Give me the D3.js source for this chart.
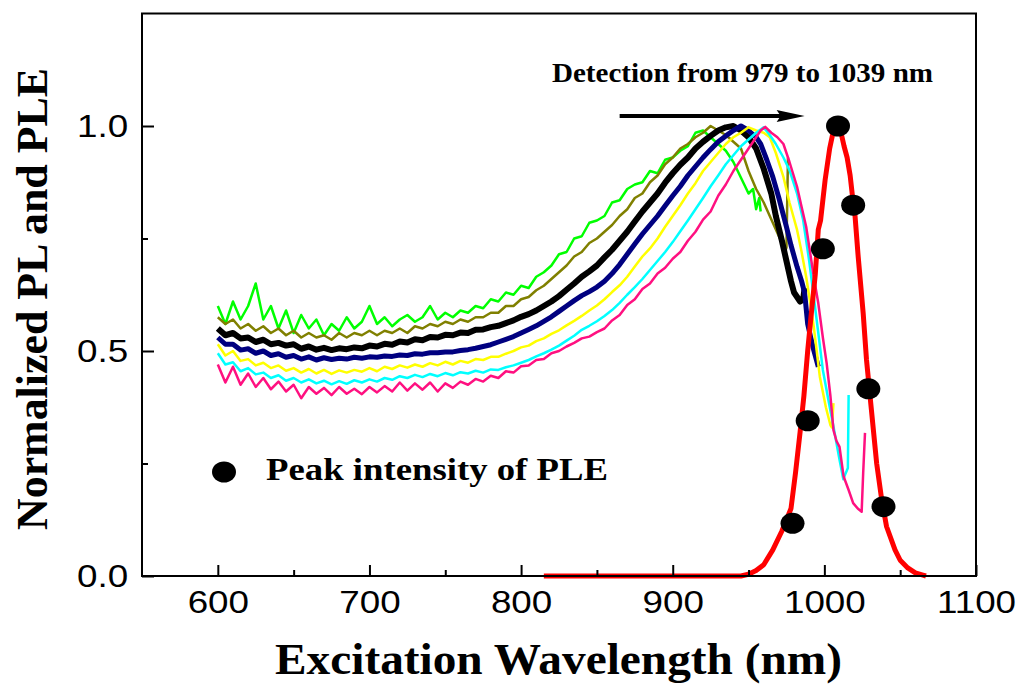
<!DOCTYPE html>
<html>
<head>
<meta charset="utf-8">
<script src="https://cdn.jsdelivr.net/npm/d3@7"></script>
<style>
  html, body { margin: 0; padding: 0; background: #fff; }
  #chart { width: 1019px; height: 685px; }
</style>
</head>
<body>
<div id="chart"></div>
<script>
// excitation wavelength grid shared by the PLE scans (nm)
const wavelength = [
  600, 605, 610, 615, 620, 625, 630, 635, 640, 645,
  650, 655, 660, 665, 670, 675, 680, 685, 690, 695,
  700, 705, 710, 715, 720, 725, 730, 735, 740, 745,
  750, 755, 760, 765, 770, 775, 780, 785, 790, 795,
  800, 805, 810, 815, 820, 825, 830, 835, 840, 845,
  850, 855, 860, 865, 870, 875, 880, 885, 890, 895,
  900, 905, 910, 915, 920, 925, 930, 935, 940, 945,
  950
];

// normalized PLE, one scan per detection wavelength
const pleGreen = [
  .60, .56, .61, .57, .60, .65, .57, .60, .55, .59,
  .54, .58, .55, .57, .535, .56, .545, .575, .55, .565,
  .60, .56, .575, .555, .57, .58, .565, .575, .60, .57,
  .585, .575, .59, .585, .60, .595, .615, .61, .63, .625,
  .645, .64, .665, .675, .69, .715, .72, .75, .755, .785,
  .79, .80, .83, .835, .86, .87, .875, .90, .895, .925,
  .93, .945, .955, .985, .99, .975, .96, .945, .92, .885,
  .85
];
const pleOlive = [
  .575, .56, .57, .55, .56, .545, .555, .54, .55, .535,
  .545, .53, .54, .53, .535, .525, .54, .53, .54, .535,
  .545, .535, .545, .54, .55, .54, .555, .55, .56, .555,
  .565, .56, .57, .565, .575, .575, .585, .585, .60, .60,
  .615, .62, .635, .645, .66, .675, .69, .71, .72, .74,
  .75, .765, .78, .80, .815, .84, .85, .875, .89, .915,
  .93, .95, .96, .975, .985, 1.0, .99, .98, .965, .95,
  .90
];
const pleBlack = [
  .55, .535, .54, .528, .53, .52, .525, .515, .518, .512,
  .515, .505, .51, .503, .507, .502, .506, .504, .508, .506,
  .512, .51, .516, .514, .521, .519, .526, .524, .531, .53,
  .536, .535, .541, .54, .547, .548, .553, .556, .562, .568,
  .576, .582, .59, .60, .61, .622, .636, .65, .665, .677,
  .69, .708, .725, .745, .765, .788, .81, .83, .85, .874,
  .895, .914, .93, .95, .965, .978, .99, .997, 1.0, .99,
  .975
];
const pleNavy = [
  .53, .515, .515, .502, .505, .495, .50, .49, .494, .486,
  .49, .482, .487, .48, .485, .481, .484, .482, .486, .484,
  .487, .486, .489, .488, .491, .49, .494, .493, .496, .496,
  .498, .498, .501, .503, .506, .51, .514, .52, .526, .532,
  .54, .548, .556, .566, .576, .588, .60, .612, .623, .632,
  .642, .655, .672, .692, .715, .738, .76, .78, .80, .823,
  .845, .866, .89, .91, .93, .948, .965, .978, .99, 1.0,
  .99
];
const pleYellow = [
  .515, .49, .50, .478, .482, .468, .474, .462, .468, .456,
  .462, .452, .46, .45, .458, .449, .457, .452, .458, .454,
  .462, .455, .465, .46, .468, .463, .47, .465, .473, .468,
  .476, .47, .478, .474, .482, .48, .487, .487, .494, .50,
  .508, .512, .522, .528, .538, .546, .557, .567, .578, .59,
  .601, .615, .631, .646, .665, .688, .71, .728, .75, .776,
  .80, .824, .85, .873, .90, .92, .94, .96, .975, .985,
  .997
];
const pleCyan = [
  .495, .47, .475, .455, .462, .448, .452, .44, .446, .434,
  .44, .43, .437, .428, .434, .426, .433, .427, .435, .43,
  .437, .432, .44, .436, .444, .44, .447, .442, .449, .444,
  .451, .446, .453, .45, .456, .452, .459, .458, .464, .468,
  .474, .48, .488, .495, .503, .512, .523, .534, .547, .556,
  .566, .578, .591, .607, .625, .642, .66, .68, .70, .72,
  .742, .766, .79, .815, .84, .866, .89, .915, .935, .955,
  .97
];
const plePink = [
  .47, .43, .465, .425, .45, .42, .44, .415, .432, .41,
  .425, .395, .42, .405, .418, .402, .42, .405, .416, .404,
  .42, .408, .422, .41, .43, .412, .428, .414, .43, .41,
  .428, .418, .432, .425, .438, .432, .445, .44, .455, .452,
  .466, .468, .48, .482, .495, .50, .51, .518, .528, .532,
  .542, .55, .568, .58, .602, .615, .638, .65, .672, .685,
  .705, .72, .745, .765, .792, .81, .845, .87, .90, .925,
  .95
];

// falling edge of each scan past 950 nm, [nm, value]
const tailGreen = [[953, .86], [955, .815], [957, .84], [958, .81]];
const tailOlive = [[955, .86], [960, .83], [966, .785], [972, .74], [974, .72], [975, .73], [976, .93]];
const tailBlack = [[955, .95], [960, .905], [965, .85], [968, .80], [972, .745], [975, .70],
  [978, .655], [980, .63], [984, .61], [986, .615], [987, .64]];
const tailNavy = [[955, .975], [958, .96], [962, .925], [966, .887], [970, .84], [975, .776],
  [978, .735], [982, .687], [985, .655], [987, .629], [989, .56], [991, .53], [993, .502], [996, .465]];
const tailYellow = [[955, .99], [960, .985], [964, .975], [968, .94], [973, .887], [977, .83],
  [982, .769], [985, .72], [988, .665], [991, .60], [993, .554], [997, .443], [1001, .375],
  [1004, .335], [1005, .33], [1006, .384]];
const tailCyan = [[955, .985], [960, .997], [964, .98], [968, .96], [973, .93], [977, .902],
  [982, .85], [986, .791], [990, .70], [993, .621], [996, .54], [999, .458], [1003, .385],
  [1006, .332], [1010, .258], [1012.5, .215], [1014, .228], [1015.5, .24], [1016, .402]];
const tailPink = [[955, .975], [958, .99], [961, .998], [965, .985], [969, .975], [973, .96],
  [977, .92], [982, .865], [985, .82], [988, .776], [991, .71], [993, .665], [996, .606],
  [999, .53], [1001.5, .473], [1004, .40], [1006, .324], [1008, .30], [1010, .287],
  [1012.7, .221], [1016, .191], [1019, .162], [1022, .15], [1024.6, .143], [1025.6, .229], [1026.8, .318]];

// PL emission (red)
const plWavelength = [815, 945, 950, 955, 960, 966, 972, 978, 981, 984, 986.5, 989, 991, 994, 996, 997.5,
  1000.5, 1003.5, 1006, 1009, 1011, 1013, 1015, 1017, 1019, 1020, 1022.3, 1025.6, 1027.8, 1031,
  1034.5, 1037.8, 1041, 1046.6, 1050, 1055, 1060, 1065, 1067];
const plValue = [0, 0, .004, .012, .025, .058, .10, .15, .23, .32, .40, .50, .57, .67, .77, .79,
  .88, .95, .99, 1.0, .985, .955, .93, .89, .83, .81, .71, .584, .48, .37,
  .25, .17, .11, .058, .035, .018, .007, .002, 0];

// peak intensity of PLE at each detection wavelength
const detectWavelength = [979, 989, 999, 1009, 1019, 1029, 1039];
const peakIntensity = [.117, .345, .727, 1.0, .824, .416, .154];

const xTicks = [600, 700, 800, 900, 1000, 1100];
const xMinor = [650, 750, 850, 950, 1050];
const yTicks = [0, 0.5, 1.0];
const yMinor = [0.25, 0.75];

const arrowFrom = [865, 1.022];
const arrowTo = [987, 1.022];

function renderChart(containerSelector) {
  const container = d3.select(containerSelector);
  const width = 1019, height = 685;
  const plot = { left: 142, right: 976, top: 13.5, bottom: 576 };

  const svg = container.append('svg')
    .attr('width', width)
    .attr('height', height)
    .attr('viewBox', `0 0 ${width} ${height}`);

  svg.append('rect').attr('width', width).attr('height', height).attr('fill', '#fff');

  const x = d3.scaleLinear().domain([550, 1100]).range([plot.left, plot.right]);
  const y = d3.scaleLinear().domain([0, 1.25]).range([plot.bottom, plot.top]);

  const sans = '"Liberation Sans", Arial, sans-serif';
  const serif = '"Liberation Serif", "Times New Roman", serif';

  // PLE scans
  const scans = [
    { vals: pleGreen, tail: tailGreen, color: '#00ff00', w: 2.5 },
    { vals: pleOlive, tail: tailOlive, color: '#808000', w: 2.5 },
    { vals: pleBlack, tail: tailBlack, color: '#000000', w: 6 },
    { vals: pleNavy, tail: tailNavy, color: '#000080', w: 5 },
    { vals: pleYellow, tail: tailYellow, color: '#ffff00', w: 2.5 },
    { vals: pleCyan, tail: tailCyan, color: '#00ffff', w: 2.5 },
    { vals: plePink, tail: tailPink, color: '#ff1080', w: 2.5 }
  ];

  const line = d3.line().x(d => x(d[0])).y(d => y(d[1]));

  scans.forEach(s => {
    const pts = wavelength.map((w, i) => [w, s.vals[i]]).concat(s.tail);
    svg.append('path')
      .datum(pts)
      .attr('d', line)
      .attr('fill', 'none')
      .attr('stroke', s.color)
      .attr('stroke-width', s.w)
      .attr('stroke-linejoin', 'round');
  });

  // PL emission
  svg.append('path')
    .datum(plWavelength.map((w, i) => [w, plValue[i]]))
    .attr('d', line)
    .attr('fill', 'none')
    .attr('stroke', '#ff0000')
    .attr('stroke-width', 5)
    .attr('stroke-linejoin', 'round');

  // peak dots
  svg.selectAll('ellipse.peak')
    .data(detectWavelength.map((w, i) => [w, peakIntensity[i]]))
    .join('ellipse')
    .attr('class', 'peak')
    .attr('cx', d => x(d[0]))
    .attr('cy', d => y(d[1]))
    .attr('rx', 12)
    .attr('ry', 10.5)
    .attr('fill', '#000');

  // frame
  svg.append('rect')
    .attr('x', plot.left)
    .attr('y', plot.top)
    .attr('width', plot.right - plot.left)
    .attr('height', plot.bottom - plot.top)
    .attr('fill', 'none')
    .attr('stroke', '#000')
    .attr('stroke-width', 2);

  // Axes, ticks pointing inward
  const xAxis = svg.append('g')
    .attr('transform', `translate(0,${plot.bottom})`)
    .call(d3.axisBottom(x).tickValues(xTicks).tickSize(-11).tickPadding(14).tickFormat(d3.format('d')));
  svg.append('g')
    .attr('transform', `translate(0,${plot.bottom})`)
    .call(d3.axisBottom(x).tickValues(xMinor).tickSize(-6).tickFormat(''));

  const yAxis = svg.append('g')
    .attr('transform', `translate(${plot.left},0)`)
    .call(d3.axisLeft(y).tickValues(yTicks).tickSize(-12).tickPadding(12).tickFormat(d3.format('.1f')));
  svg.append('g')
    .attr('transform', `translate(${plot.left},0)`)
    .call(d3.axisLeft(y).tickValues(yMinor).tickSize(-6).tickFormat(''));

  svg.selectAll('.domain').remove();
  svg.selectAll('.tick line').attr('stroke', '#000').attr('stroke-width', 2);

  [xAxis, yAxis].forEach(a => a.selectAll('text')
    .attr('fill', '#000')
    .style('font-family', sans)
    .style('font-size', '32px')
    .attr('transform', 'scale(1.15,1)'));

  // titles
  svg.append('text')
    .attr('x', 275)
    .attr('y', 674)
    .attr('textLength', 567)
    .attr('lengthAdjust', 'spacingAndGlyphs')
    .style('font-family', serif)
    .style('font-weight', 'bold')
    .style('font-size', '45px')
    .attr('fill', '#000')
    .text('Excitation Wavelength (nm)');

  svg.append('text')
    .attr('transform', 'translate(47,299) rotate(-90)')
    .attr('text-anchor', 'middle')
    .attr('textLength', 462)
    .attr('lengthAdjust', 'spacingAndGlyphs')
    .style('font-family', serif)
    .style('font-weight', 'bold')
    .style('font-size', '44px')
    .attr('fill', '#000')
    .text('Normalized PL and PLE');

  // annotation
  svg.append('text')
    .attr('x', 552)
    .attr('y', 82)
    .attr('textLength', 381)
    .attr('lengthAdjust', 'spacingAndGlyphs')
    .style('font-family', serif)
    .style('font-weight', 'bold')
    .style('font-size', '27px')
    .attr('fill', '#000')
    .text('Detection from 979 to 1039 nm');

  const ax0 = x(arrowFrom[0]), ax1 = x(arrowTo[0]), ay = y(arrowFrom[1]);
  svg.append('line')
    .attr('x1', ax0).attr('x2', ax1 - 20)
    .attr('y1', ay).attr('y2', ay)
    .attr('stroke', '#000')
    .attr('stroke-width', 4);
  svg.append('path')
    .attr('d', `M${ax1},${ay} L${ax1 - 28},${ay - 6} L${ax1 - 24},${ay} L${ax1 - 28},${ay + 6} Z`)
    .attr('fill', '#000');

  // legend
  svg.append('ellipse')
    .attr('cx', 224).attr('cy', 472)
    .attr('rx', 12).attr('ry', 10.5)
    .attr('fill', '#000');
  svg.append('text')
    .attr('x', 266)
    .attr('y', 480)
    .attr('textLength', 342)
    .attr('lengthAdjust', 'spacingAndGlyphs')
    .style('font-family', serif)
    .style('font-weight', 'bold')
    .style('font-size', '31px')
    .attr('fill', '#000')
    .text('Peak intensity of PLE');
}

renderChart('#chart');
</script>
</body>
</html>
